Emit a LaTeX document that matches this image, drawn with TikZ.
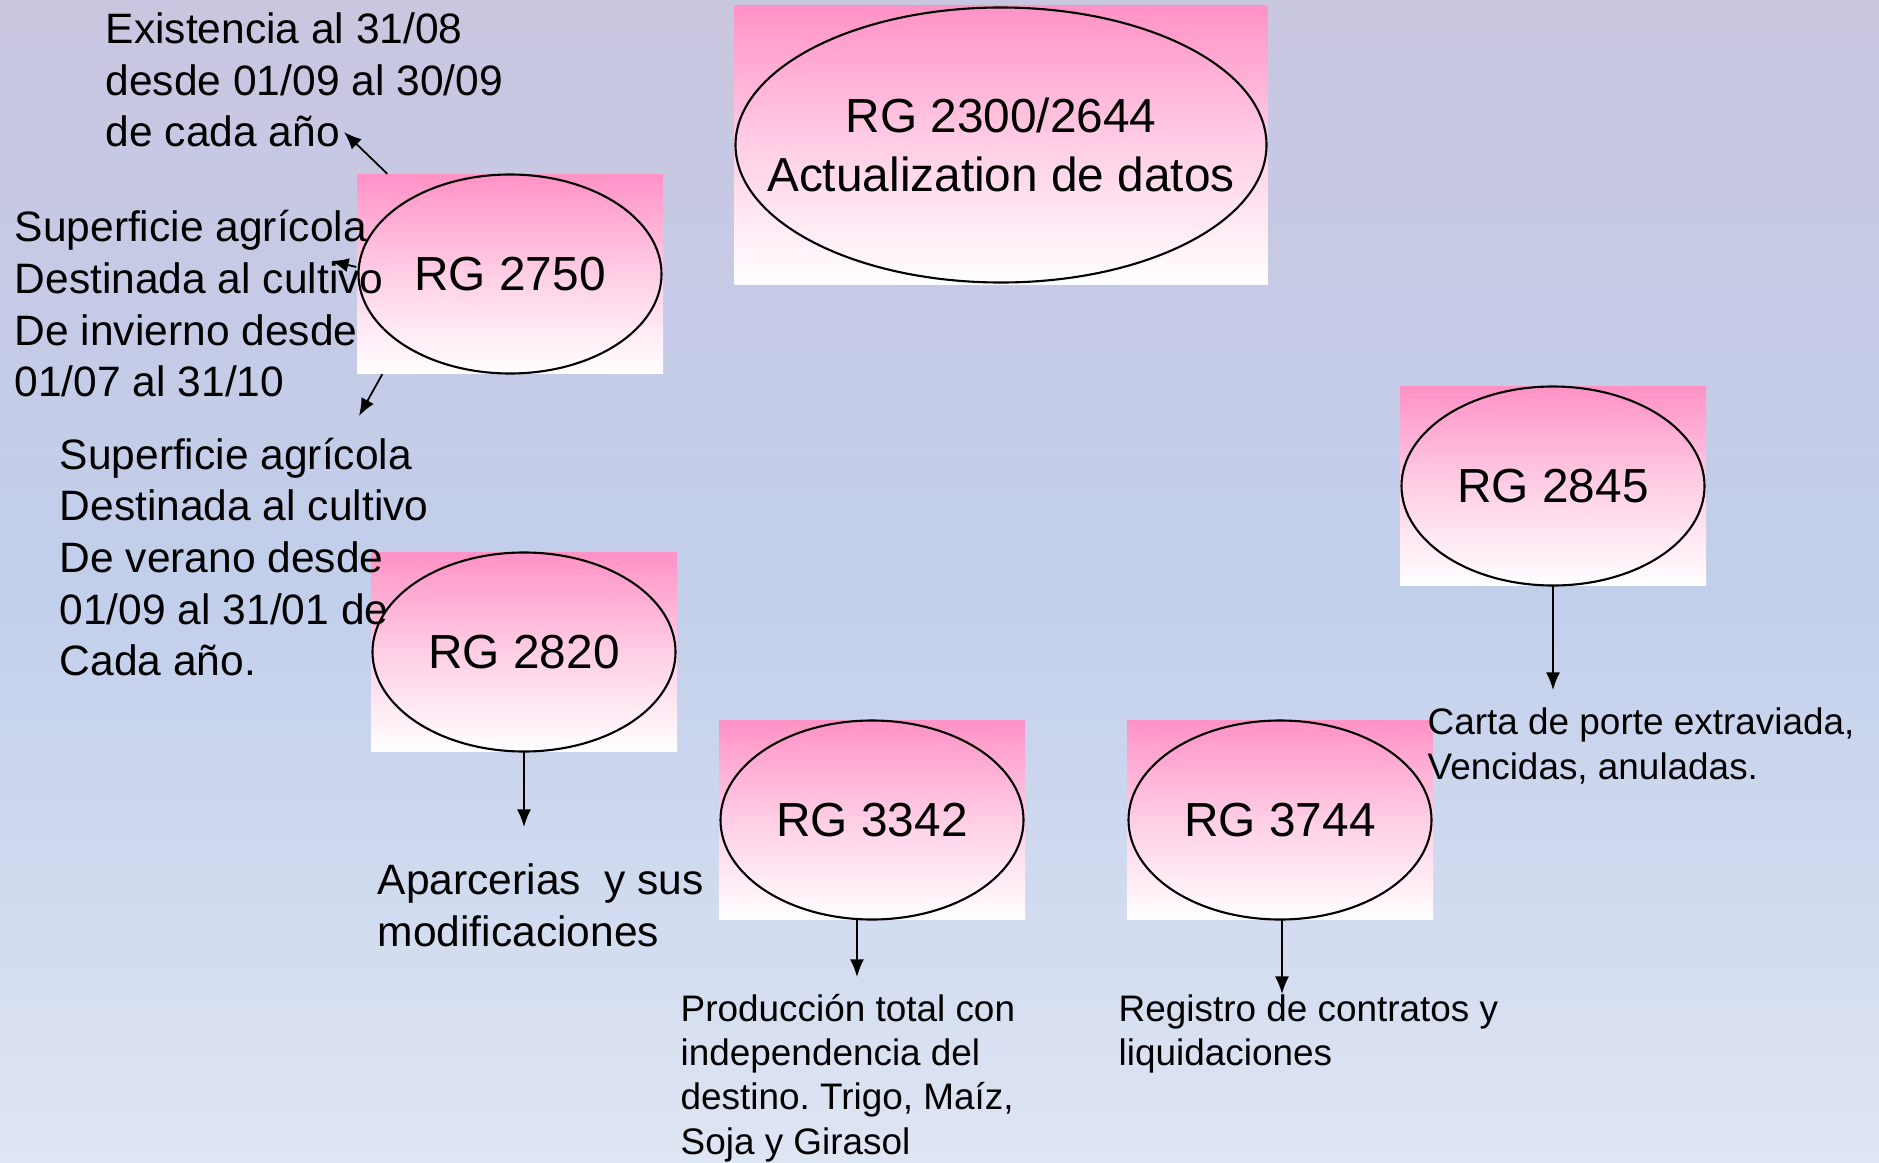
\documentclass[tikz,border=0pt]{standalone}
\usepackage{fontspec}
\setmainfont{Liberation Sans}
\frenchspacing
\usetikzlibrary{arrows.meta,shapes.geometric}
\definecolor{bgtop}{RGB}{201,198,224}
\definecolor{bgmid}{RGB}{194,207,235}
\definecolor{bgbot}{RGB}{222,229,243}
\definecolor{rgpink}{RGB}{255,146,198}
\tikzset{
  rgbox/.style={rectangle,inner sep=0pt,minimum width=3.06cm,minimum height=1.99cm,
    top color=rgpink,bottom color=white,middle color=rgpink!45!white,align=center,
    font=\fontsize{13.6}{16.7}\selectfont},
  rgoval/.style={ellipse,draw,line width=0.6pt,inner sep=0pt,
    minimum width=3.03cm,minimum height=1.99cm},
  note/.style={anchor=west,inner sep=0pt,align=left,
    font=\fontsize{12.1}{14.7}\selectfont},
  smallnote/.style={anchor=west,inner sep=0pt,align=left,
    font=\fontsize{10.5}{12.6}\selectfont},
  arr/.style={-{Latex[length=5pt,width=4pt]},line width=0.5pt}
}
\begin{document}
\begin{tikzpicture}
\useasboundingbox (0,0) rectangle (18.79,11.62);
\shade[top color=bgtop,bottom color=bgbot,middle color=bgmid] (0,0) rectangle (18.79,11.62);

% RG boxes
\node[rgbox,minimum width=5.33cm,minimum height=2.79cm] (b2300) at (10.01,10.17) {RG 2300/2644\\Actualization de datos};
\node[rgoval,minimum width=5.31cm,minimum height=2.75cm] (e2300) at (b2300) {};
\node[rgbox] (b2750) at (5.10,8.88) {RG 2750};
\node[rgoval] (e2750) at (b2750) {};
\node[rgbox] (b2820) at (5.24,5.10) {RG 2820};
\node[rgoval] (e2820) at (b2820) {};
\node[rgbox] (b3342) at (8.72,3.42) {RG 3342};
\node[rgoval] (e3342) at (b3342) {};
\node[rgbox] (b3744) at (12.80,3.42) {RG 3744};
\node[rgoval] (e3744) at (b3744) {};
\node[rgbox] (b2845) at (15.53,6.76) {RG 2845};
\node[rgoval] (e2845) at (b2845) {};

% arrow ends
\coordinate (a1) at (3.44,10.30);
\coordinate (a2) at (3.31,9.01);
\coordinate (a3) at (3.59,7.46);
\coordinate (a4) at (5.24,3.35);
\coordinate (a5) at (8.57,1.85);
\coordinate (a6) at (12.82,1.68);
\coordinate (a7) at (15.53,4.72);

\draw[arr] ([xshift=0.31cm]b2750.north west) -- (a1);
\draw[arr] ([yshift=0.07cm]b2750.west) -- (a2);
\draw[arr] ([xshift=0.26cm]b2750.south west) -- (a3);
\draw[arr] (b2820.south) -- (a4);
\draw[arr] ([xshift=-0.15cm]b3342.south) -- (a5);
\draw[arr] ([xshift=0.02cm]b3744.south) -- (a6);
\draw[arr] (b2845.south) -- (a7);

% texts
\node[note] (tExist) at (1.05,10.82) {Existencia al 31/08\\desde 01/09 al 30/09\\de cada año};
\node[note] (tInv) at (0.14,8.58) {Superficie agrícola\\Destinada al cultivo\\De invierno desde\\01/07 al 31/10};
\node[note] (tVer) at (0.59,6.05) {Superficie agrícola\\Destinada al cultivo\\De verano desde\\01/09 al 31/01 de\\Cada año.};
\node[note] (tAparc) at (3.77,2.57) {Aparcerias\ \ y sus\\modificaciones};
\node[smallnote] (tProd) at (6.80,0.84) {Producción total con\\independencia del\\destino. Trigo, Maíz,\\Soja y Girasol};
\node[smallnote] (tReg) at (11.18,1.28) {Registro de contratos y\\liquidaciones};
\node[smallnote] (tCarta) at (14.27,4.16) {Carta de porte extraviada,\\Vencidas, anuladas.};
\end{tikzpicture}
\end{document}
